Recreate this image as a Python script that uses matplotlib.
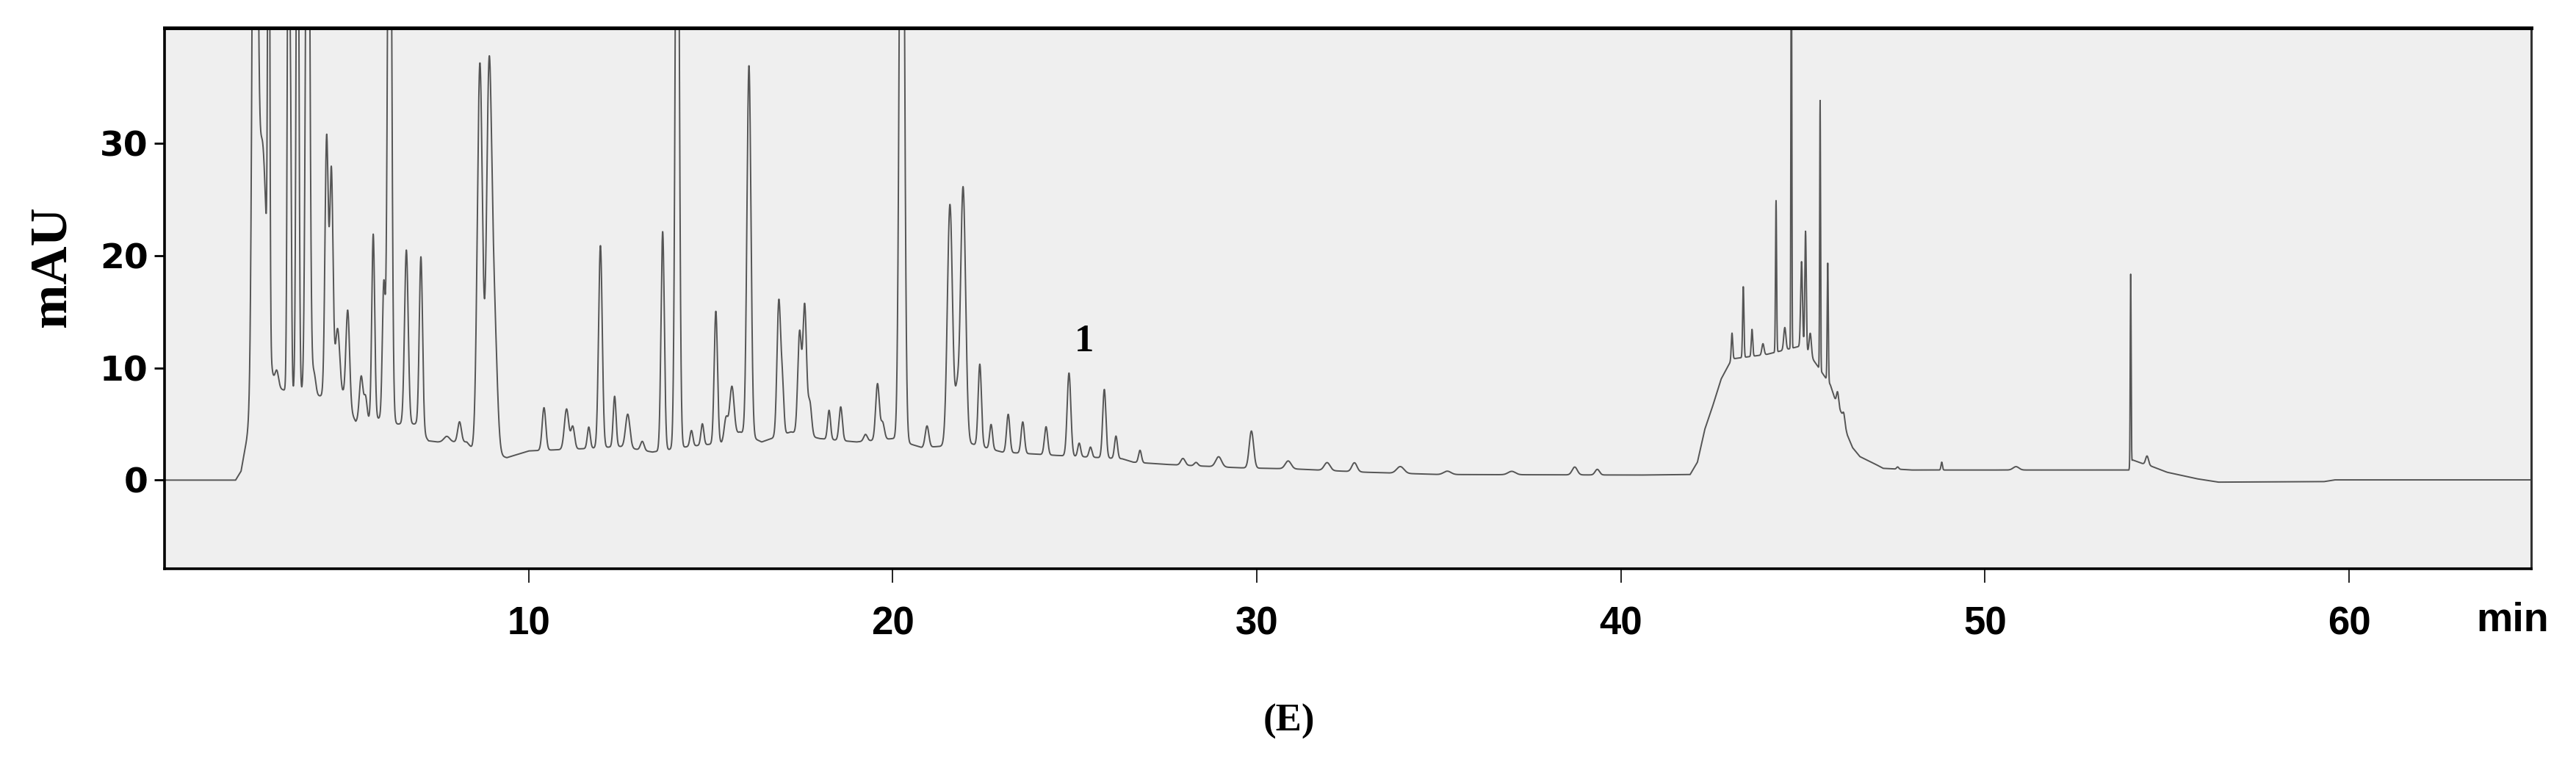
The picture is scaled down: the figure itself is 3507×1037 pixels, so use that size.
import numpy as np
import matplotlib
matplotlib.use('Agg')
import matplotlib.pyplot as plt

# peak table: retention time (min), height above baseline (mAU), width (sigma, min)
peak_times = [2.48, 2.68, 2.86, 3.08, 3.40, 3.46, 3.65, 3.93, 4.10, 4.45, 4.58, 4.75, 5.03, 5.40, 5.52, 5.73,
              6.02, 6.18, 6.64, 7.04, 7.75, 8.10, 8.66, 8.91, 9.05, 10.42, 11.04, 11.21, 11.65, 11.97, 12.36,
              12.72, 13.12, 13.68, 14.08, 14.47, 14.77, 15.14, 15.42, 15.58, 16.05, 16.87, 16.97, 17.44, 17.58,
              17.72, 18.25, 18.57, 19.25, 19.58, 19.72, 20.25, 20.94, 21.57, 21.76, 21.93, 22.39, 22.70, 23.17,
              23.57, 24.21, 24.84, 25.12, 25.43, 25.81, 26.13, 26.79, 27.97, 28.33, 28.95, 29.85, 30.86, 31.93,
              32.68, 33.94, 35.23, 37.0, 38.73, 39.35, 43.05, 43.36, 43.6, 43.9, 44.26, 44.5, 44.68, 44.96,
              45.07, 45.2, 45.47, 45.68, 45.95, 46.12, 47.6, 48.81, 50.85, 54.0, 54.45]
peak_heights = [80, 22, 60, 1.5, 50, 22, 60, 70, 2.0, 23, 20, 6, 8.5, 4.0, 2.0, 16.5,
                12, 70, 15.5, 15.5, 0.5, 1.8, 34.5, 32.5, 12, 3.8, 3.6, 2.0, 1.9, 18, 4.5,
                3.0, 0.8, 19.5, 70, 1.4, 1.9, 11.8, 2.0, 4.5, 33, 12, 4, 9, 11.5,
                3, 2.6, 3.0, 0.6, 5.0, 1.5, 80, 1.9, 21.5, 4, 23, 7.3, 2.2, 3.4,
                2.8, 2.5, 7.4, 1.2, 0.9, 6.1, 2.0, 1.1, 0.6, 0.3, 0.9, 3.3, 0.7, 0.7,
                0.8, 0.6, 0.3, 0.3, 0.7, 0.5, 2.3, 6.3, 2.4, 1.0, 13.5, 2.0, 40, 7.5,
                10.5, 2.0, 24, 10.5, 1.2, 0.8, 0.2, 0.7, 0.3, 17.0, 0.8]
peak_widths = [0.06, 0.12, 0.025, 0.05, 0.03, 0.025, 0.035, 0.05, 0.05, 0.045, 0.045, 0.06, 0.05, 0.05, 0.04, 0.04,
               0.04, 0.05, 0.05, 0.045, 0.08, 0.05, 0.07, 0.07, 0.08, 0.05, 0.06, 0.05, 0.04, 0.05, 0.04,
               0.06, 0.05, 0.045, 0.05, 0.04, 0.04, 0.045, 0.05, 0.06, 0.055, 0.05, 0.04, 0.05, 0.05,
               0.05, 0.04, 0.045, 0.05, 0.05, 0.05, 0.06, 0.05, 0.07, 0.05, 0.07, 0.045, 0.04, 0.045,
               0.045, 0.045, 0.05, 0.04, 0.04, 0.045, 0.04, 0.04, 0.06, 0.05, 0.08, 0.06, 0.08, 0.08,
               0.07, 0.1, 0.1, 0.1, 0.07, 0.06, 0.02, 0.018, 0.02, 0.03, 0.015, 0.03, 0.012, 0.025,
               0.02, 0.03, 0.012, 0.015, 0.03, 0.03, 0.03, 0.02, 0.08, 0.012, 0.04]

# baseline (floor under the peaks), read at anchor times
base_times = [0, 1.95, 2.1, 2.25, 2.4, 2.6, 3.0, 3.3, 4.2, 4.9, 5.25, 5.9, 6.4, 6.9, 7.25, 7.5, 8.3, 8.45,
              9.4, 10.0, 11.5, 12.5, 13.4, 14.4, 15.3, 15.8, 16.4, 17.2, 18.0, 19.0, 20.0, 20.8, 22.2, 23.0,
              24.5, 26.3, 26.6, 27.5, 29.5, 31.0, 33.0, 35.0, 40.5, 41.9, 42.1, 42.3, 42.5, 42.75, 43.05,
              44.0, 45.0, 45.35, 45.75, 45.9, 46.05, 46.22, 46.36, 46.56, 46.97, 47.2, 48.0, 53.95, 54.05,
              54.3, 54.6, 55.0, 55.8, 56.4, 59.3, 59.6, 65.0]
base_values = [0, 0, 0.8, 3.5, 6.5, 8.0, 8.3, 8.0, 7.5, 7.5, 5.2, 5.5, 5.0, 5.0, 3.5, 3.4, 3.4, 2.8,
               2.0, 2.6, 2.8, 3.0, 2.5, 3.0, 3.3, 4.3, 3.4, 4.3, 3.7, 3.4, 3.7, 2.9, 3.2, 2.5,
               2.2, 1.9, 1.6, 1.4, 1.1, 1.0, 0.7, 0.5, 0.45, 0.5, 1.6, 4.5, 6.4, 9.0, 10.8,
               11.2, 12.0, 10.4, 8.5, 7.0, 6.0, 4.0, 2.9, 2.1, 1.45, 1.05, 0.9, 0.9, 1.8,
               1.5, 1.2, 0.7, 0.13, -0.18, -0.14, 0.02, 0.02]

x_ticks = [10, 20, 30, 40, 50, 60]
y_ticks = [0, 10, 20, 30]
label_time, label_value, label_text = 25.26, 12.35, '1'

t = np.arange(0, 65.001, 0.002)
signal = np.interp(t, base_times, base_values)
for rt, h, w in zip(peak_times, peak_heights, peak_widths):
    signal += h * np.exp(-0.5 * ((t - rt) / w) ** 2)

fig = plt.figure(figsize=(35.07, 10.37), dpi=100)
ax = fig.add_axes([0.0639, 0.2536, 0.9187, 0.7098])
ax.set_facecolor('#efefef')
ax.plot(t, signal, color='#555555', lw=1.4)

ax.set_xlim(0, 65)
ax.set_ylim(-7.9, 40.3)
ax.set_xticks(x_ticks)
ax.set_yticks(y_ticks)
ax.tick_params(axis='x', direction='out', length=14, width=1.4, pad=22, color='#222222')
ax.tick_params(axis='y', direction='out', length=10, width=2.0, pad=6, color='black')
for lbl in ax.get_xticklabels():
    lbl.set_family('Liberation Sans')
    lbl.set_fontweight('bold')
    lbl.set_fontsize(38)
for lbl in ax.get_yticklabels():
    lbl.set_family('DejaVu Sans')
    lbl.set_fontweight('bold')
    lbl.set_fontsize(34)

for side in ['left', 'bottom']:
    ax.spines[side].set_linewidth(2.6)
    ax.spines[side].set_color('black')
ax.spines['top'].set_linewidth(3.6)
ax.spines['top'].set_color('black')
ax.spines['right'].set_linewidth(2.2)
ax.spines['right'].set_color('#333333')

ax.text(label_time, label_value, label_text, ha='center', va='center',
        family='Liberation Serif', fontweight='bold', fontsize=38)

fig.text(0.0202, 0.65, 'mAU', rotation=90, ha='center', va='center',
         family='Liberation Serif', fontweight='bold', fontsize=52)
fig.text(0.9755, 0.185, 'min', ha='center', va='center',
         family='Liberation Sans', fontweight='bold', fontsize=40)
fig.text(0.5005, 0.053, '(E)', ha='center', va='center',
         family='Liberation Serif', fontweight='bold', fontsize=38)

fig.savefig('out.png', dpi=100, facecolor='white')
